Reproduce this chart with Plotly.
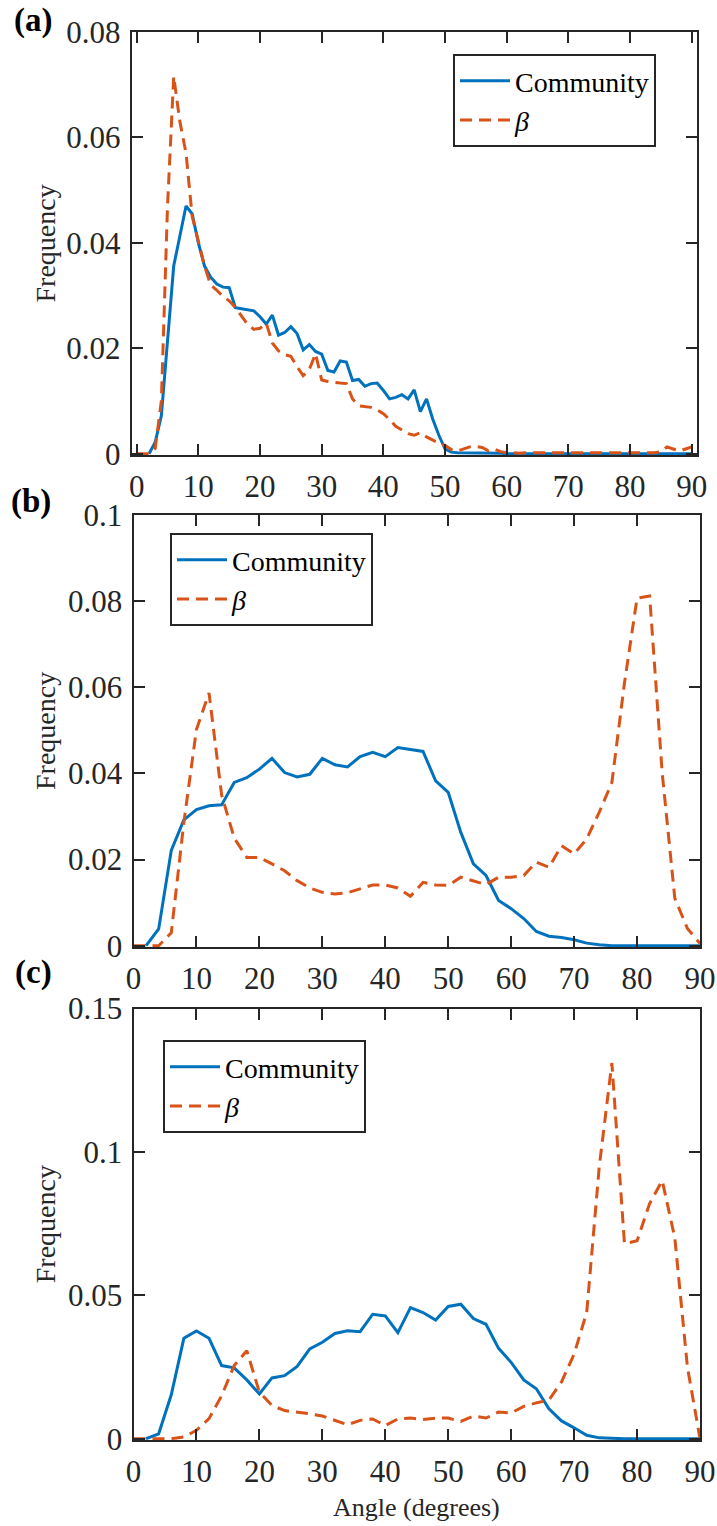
import plotly.graph_objects as go

# ---------------- data ----------------
angles_a = list(range(0, 91, 1))
angles_bc = list(range(0, 91, 2))

community_a = [None, None, 0, 0.0022, 0.0072, 0.021, 0.0356, 0.0413, 0.047, 0.0455,
               0.040, 0.0356, 0.0335, 0.0322, 0.0316, 0.0315, 0.0277, 0.0275, 0.0273, 0.0271,
               0.026, 0.0246, 0.0263, 0.0225, 0.0230, 0.0241, 0.0228, 0.0197, 0.0207, 0.0194,
               0.0189, 0.0158, 0.0155, 0.0176, 0.0174, 0.0139, 0.0141, 0.0128, 0.0133, 0.0134,
               0.012, 0.0104, 0.0107, 0.0112, 0.0104, 0.0121, 0.0080, 0.0104, 0.0066, 0.0035,
               0.0009, 0.0003, 0.0002, 0.0002, 0.0002, 0.0001, 0.0001, 0.0001, 0.0001, 0.0001,
               0, 0, 0, 0, 0, 0, 0, 0, 0, 0,
               0, 0, 0, 0, 0, 0, 0, 0, 0, 0,
               0, 0, 0, 0, 0, 0, 0, 0, 0, 0, 0]
beta_a = [0, 0, 0, 0.001, 0.010, 0.047, 0.0716, 0.063, 0.057, 0.045,
          0.040, 0.0356, 0.032, 0.031, 0.0298, 0.029, 0.0277, 0.026, 0.0245, 0.0236,
          0.0238, 0.0248, 0.021, 0.0195, 0.0188, 0.0185, 0.0165, 0.0148, 0.016, 0.019,
          0.014, 0.0137, 0.0135, 0.0134, 0.0133, 0.0104, 0.0091, 0.009, 0.0088, 0.0083,
          0.0076, 0.0065, 0.0052, 0.0045, 0.0038, 0.0035, 0.004, 0.0032, 0.0026, 0.002,
          0.0016, 0.0008, 0.0005, 0.0009, 0.0013, 0.0014, 0.0012, 0.0006, 0.0009, 0.0004,
          0.0002, 0.0002, 0.0001, 0.0002, 0.0002, 0.0001, 0.0002, 0.0002, 0.0002, 0.0001,
          0.0002, 0.0002, 0.0001, 0.0002, 0.0002, 0.0002, 0.0001, 0.0002, 0.0002, 0.0001,
          0.0002, 0.0002, 0.0002, 0.0001, 0.0002, 0.0004, 0.0013, 0.0009, 0.0005, 0.0009, 0.0013]

community_b = [None, 0, 0.0039, 0.0221, 0.0292, 0.0316, 0.0325, 0.0327, 0.0379, 0.039,
               0.041, 0.0435, 0.0402, 0.0392, 0.0398, 0.0435, 0.042, 0.0415, 0.0439, 0.0449,
               0.0439, 0.046, 0.0455, 0.0451, 0.0383, 0.0356, 0.0263, 0.019, 0.0163, 0.0105,
               0.0086, 0.0063, 0.0033, 0.0022, 0.0019, 0.0014, 0.0006, 0.0002, 0, 0,
               0, 0, 0, 0, 0, 0]
beta_b = [0, 0, 0, 0.003, 0.0286, 0.0502, 0.0587, 0.035, 0.025, 0.0205,
          0.0205, 0.019, 0.0174, 0.0151, 0.0134, 0.0124, 0.012, 0.0123, 0.0132, 0.0141,
          0.0141, 0.0134, 0.0115, 0.0147, 0.0141, 0.014, 0.0159, 0.0151, 0.0142, 0.0159,
          0.0159, 0.0163, 0.0194, 0.0182, 0.0232, 0.0213, 0.0248, 0.031, 0.0379, 0.061,
          0.0807, 0.0812, 0.040, 0.011, 0.004, 0.0005]

community_c = [None, 0, 0.0017, 0.0153, 0.035, 0.0376, 0.035, 0.0255, 0.0247, 0.0205,
               0.0156, 0.0212, 0.022, 0.0252, 0.0313, 0.0336, 0.0367, 0.0376, 0.0373, 0.0434,
               0.0428, 0.037, 0.0457, 0.044, 0.0414, 0.0461, 0.0469, 0.0419, 0.0399, 0.0315,
               0.0266, 0.0205, 0.0174, 0.0104, 0.0062, 0.0038, 0.0012, 0.0003, 0.0001, 0,
               0, 0, 0, 0, 0, 0]
beta_c = [0, 0, 0, 0, 0.0006, 0.0029, 0.007, 0.015, 0.0255, 0.0307,
          0.0162, 0.0116, 0.0098, 0.0093, 0.0087, 0.0079, 0.0064, 0.0049, 0.0064, 0.0069,
          0.0046, 0.0069, 0.0072, 0.0067, 0.0072, 0.0072, 0.006, 0.0079, 0.0072, 0.0093,
          0.009, 0.0113, 0.0125, 0.0135, 0.0198, 0.0295, 0.044, 0.095, 0.131, 0.068,
          0.069, 0.082, 0.090, 0.070, 0.025, 0]

x_tick_vals = [0, 10, 20, 30, 40, 50, 60, 70, 80, 90]
x_tick_text = ["0", "10", "20", "30", "40", "50", "60", "70", "80", "90"]
y_tick_vals_a = [0, 0.02, 0.04, 0.06, 0.08]
y_tick_text_a = ["0", "0.02", "0.04", "0.06", "0.08"]
y_tick_vals_b = [0, 0.02, 0.04, 0.06, 0.08, 0.1]
y_tick_text_b = ["0", "0.02", "0.04", "0.06", "0.08", "0.1"]
y_tick_vals_c = [0, 0.05, 0.1, 0.15]
y_tick_text_c = ["0", "0.05", "0.1", "0.15"]

series_names = ["Community", "<i>β</i>"]
panel_labels = ["(a)", "(b)", "(c)"]
y_title = "Frequency"
x_title = "Angle (degrees)"

# ---------------- style ----------------
W, H = 717, 1526
BLUE = "#0072BD"
ORANGE = "#D95319"
AXC = "#262626"
FONT = "Liberation Serif"
TICK_FS = 31

fig = go.Figure()

panels = [
    (angles_a, community_a, beta_a, "x", "y", "legend"),
    (angles_bc, community_b, beta_b, "x2", "y2", "legend2"),
    (angles_bc, community_c, beta_c, "x3", "y3", "legend3"),
]
for xs, comm, beta, xa, ya, lg in panels:
    fig.add_trace(go.Scatter(x=xs, y=comm, mode="lines", name=series_names[0],
                             line=dict(color=BLUE, width=3), xaxis=xa, yaxis=ya,
                             legend=lg, connectgaps=False))
    fig.add_trace(go.Scatter(x=xs, y=beta, mode="lines", name=series_names[1],
                             line=dict(color=ORANGE, width=3, dash="12px,7px"),
                             xaxis=xa, yaxis=ya, legend=lg))


def py(p):
    return 1 - p / H


def px(p):
    return p / W


common_ax = dict(showline=True, linecolor=AXC, linewidth=2, mirror="allticks",
                 ticks="inside", ticklen=11, tickwidth=2, tickcolor=AXC,
                 showgrid=False, zeroline=False, ticklabelstandoff=3,
                 tickfont=dict(family=FONT, size=TICK_FS, color=AXC))

# pixel boxes of the three panels
box_a = (131.7, 696.7, 32, 455)
box_b = (133.5, 700, 515, 947)
box_c = (133.5, 700, 1008.5, 1440)


def yr(top):
    return [-top * 0.003, top]


fig.update_layout(
    width=W, height=H, margin=dict(l=0, r=0, t=0, b=0, autoexpand=False),
    paper_bgcolor="white", plot_bgcolor="white",
    font=dict(family=FONT, size=27, color=AXC),
    xaxis=dict(domain=[px(box_a[0]), px(box_a[1])], range=[-0.81, 90.81],
               tickvals=x_tick_vals, ticktext=x_tick_text, anchor="y", **common_ax),
    yaxis=dict(domain=[py(box_a[3]), py(box_a[2])], range=yr(0.08),
               tickvals=y_tick_vals_a, ticktext=y_tick_text_a, anchor="x", **common_ax),
    xaxis2=dict(domain=[px(box_b[0]), px(box_b[1])], range=[0, 90],
                tickvals=x_tick_vals, ticktext=x_tick_text, anchor="y2", **common_ax),
    yaxis2=dict(domain=[py(box_b[3]), py(box_b[2])], range=yr(0.1),
                tickvals=y_tick_vals_b, ticktext=y_tick_text_b, anchor="x2", **common_ax),
    xaxis3=dict(domain=[px(box_c[0]), px(box_c[1])], range=[0, 90],
                tickvals=x_tick_vals, ticktext=x_tick_text, anchor="y3", **common_ax),
    yaxis3=dict(domain=[py(box_c[3]), py(box_c[2])], range=yr(0.15),
                tickvals=y_tick_vals_c, ticktext=y_tick_text_c, anchor="x3", **common_ax),
)

leg_common = dict(bgcolor="white", bordercolor=AXC, borderwidth=2,
                  font=dict(family=FONT, size=28, color="black"),
                  xanchor="left", yanchor="top", itemwidth=50,
                  tracegroupgap=0)
fig.update_layout(
    legend=dict(x=px(453), y=py(54), **leg_common),
    legend2=dict(x=px(170), y=py(533), **leg_common),
    legend3=dict(x=px(163), y=py(1040), **leg_common),
)

annotations = []
for lab, (cx, cy) in zip(panel_labels, [(33, 20), (31, 501), (33, 972)]):
    annotations.append(dict(text="<b>" + lab + "</b>", x=px(cx), y=py(cy),
                            xref="paper", yref="paper", showarrow=False,
                            xanchor="center", yanchor="middle",
                            font=dict(family=FONT, size=33, color="black")))
for box in (box_a, box_b, box_c):
    annotations.append(dict(text=y_title, x=px(45), y=py((box[2] + box[3]) / 2),
                            xref="paper", yref="paper", showarrow=False, textangle=-90,
                            xanchor="center", yanchor="middle",
                            font=dict(family=FONT, size=28, color=AXC)))
annotations.append(dict(text=x_title, x=px((box_c[0] + box_c[1]) / 2), y=py(1524),
                        xref="paper", yref="paper", showarrow=False,
                        xanchor="center", yanchor="bottom",
                        font=dict(family=FONT, size=26, color=AXC)))
fig.update_layout(annotations=annotations)

fig.write_html("out.html")
